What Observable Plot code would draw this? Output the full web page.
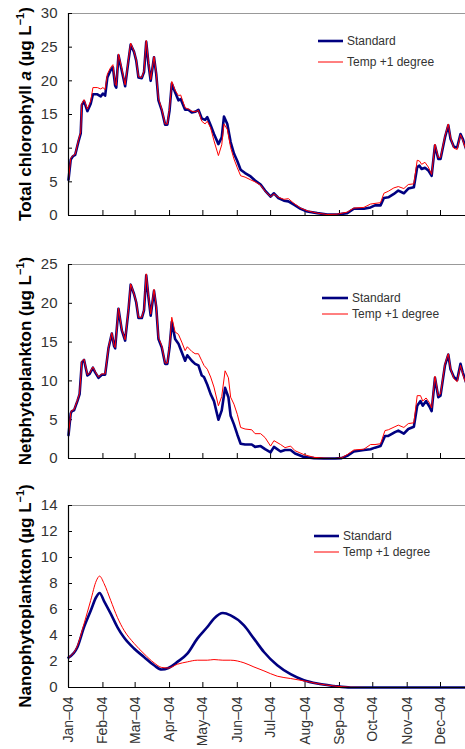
<!DOCTYPE html>
<html><head><meta charset="utf-8">
<script src="https://cdn.jsdelivr.net/npm/d3@7"></script>
<script src="https://cdn.jsdelivr.net/npm/@observablehq/plot@0.6"></script>
<style>
body{margin:0;background:#fff;}
#chart svg{display:block;}
</style></head><body><div id="chart"></div>
<script>
const months = ["2004-01-01","2004-02-01","2004-03-01","2004-04-01","2004-05-01","2004-06-01","2004-07-01","2004-08-01","2004-09-01","2004-10-01","2004-11-01","2004-12-01"];
const monthLabels = ["Jan–04","Feb–04","Mar–04","Apr–04","May–04","Jun–04","Jul–04","Aug–04","Sep–04","Oct–04","Nov–04","Dec–04"];
const seriesNames = ["Standard","Temp +1 degree"];
const seriesColors = ["#000080","#ff0000"];

// Total chlorophyll a (day of year, 0 = 1 Jan 2004)
const totalDays = [0,2,4,6,9,11,12,14,17,20,22,26,29,31,33,35,38,40,42,43,45,48,51,54,56,59,61,63,66,68,70,72,74,77,79,81,84,87,89,91,93,96,99,101,105,108,111,114,117,120,123,125,128,131,135,138,140,143,146,149,152,155,159,164,168,173,177,182,185,189,194,198,203,209,215,224,233,242,251,257,266,272,276,281,284,288,293,297,302,306,311,314,316,318,321,324,327,330,333,335,339,342,344,347,350,353,355,358];
const totalStandard = [5.3,8.3,8.8,9.0,11.0,12.2,16.4,17.0,15.5,16.6,18.0,18.0,17.7,18.1,17.8,20.5,21.6,22.0,19.3,19.0,23.8,21.5,19.2,23.0,25.4,24.3,23.0,20.5,20.4,21.3,25.8,22.5,20.0,23.5,21.0,17.1,15.6,13.5,13.5,15.6,19.6,18.3,17.1,17.3,15.7,15.7,15.3,15.4,15.7,14.4,14.2,14.6,13.4,12.1,10.6,11.6,14.7,13.6,10.9,9.2,8.1,6.8,6.3,5.8,5.2,4.6,3.7,2.8,3.3,2.6,2.2,2.1,1.6,1.0,0.6,0.35,0.15,0.15,0.35,1.0,1.0,1.2,1.5,1.5,2.6,2.7,3.2,3.7,3.3,4.0,4.2,7.2,7.4,6.9,7.1,6.7,5.9,10.4,8.4,8.4,11.6,13.4,11.4,10.2,10.1,12.1,11.4,9.9];
const totalTemp = [5.3,8.5,8.9,9.1,11.2,12.4,16.6,17.2,15.8,17.0,19.0,19.0,18.8,19.0,18.7,21.0,22.0,22.4,19.6,19.3,24.0,21.8,19.4,23.2,25.6,24.4,23.1,20.6,20.5,21.5,26.0,22.8,20.2,23.6,21.2,17.4,15.8,13.6,13.6,15.9,19.9,18.6,17.8,17.9,16.0,15.8,15.5,15.4,15.6,14.0,13.6,14.0,13.0,11.1,8.9,10.5,13.6,12.8,10.1,8.4,7.1,5.9,5.7,5.3,5.0,4.5,3.6,2.8,3.2,2.7,2.4,2.5,1.8,1.1,0.7,0.35,0.15,0.2,0.5,1.1,1.2,1.7,1.8,1.9,3.3,3.6,4.1,4.3,4.0,4.6,4.7,8.2,8.1,7.6,7.9,7.2,6.1,10.6,8.6,8.6,11.8,13.6,11.6,10.0,9.8,12.0,11.2,9.7];

// Netphytoplankton
const netDays = [0,2,3,5,8,10,12,14,17,19,22,24,27,30,33,36,39,41,42,45,48,51,54,56,59,61,63,66,68,70,72,74,77,79,81,84,87,89,91,93,96,99,102,105,107,111,114,117,120,122,125,128,131,135,138,141,144,146,149,152,155,159,165,168,173,177,182,185,191,195,200,204,212,221,230,240,246,251,257,266,272,276,281,285,288,294,297,302,306,311,314,317,319,322,325,327,330,333,335,339,342,344,347,350,353,355,358];
const netStandard = [3.0,5.8,6.1,6.2,7.4,8.3,12.4,12.7,10.7,10.9,11.7,11.1,10.4,10.8,10.8,14.2,16.1,14.5,14.2,19.3,16.5,15.2,19.1,22.4,21.2,20.1,18.1,18.1,19.1,23.6,20.8,18.4,21.6,19.5,15.4,14.3,12.2,12.2,14.3,17.6,15.4,14.8,13.7,12.6,13.3,12.6,12.2,12.0,10.7,10.5,9.5,8.3,7.4,5.0,6.2,9.1,7.9,5.5,4.4,3.1,1.9,1.8,1.8,1.5,1.6,1.2,0.8,1.5,0.9,1.1,1.1,0.65,0.2,0.05,0.0,0.0,0.05,0.35,0.9,1.1,1.2,1.4,1.6,2.9,2.9,3.4,3.6,3.2,3.8,4.1,6.8,7.4,6.8,7.4,6.7,6.1,10.4,7.9,8.1,12.0,13.4,11.5,10.5,10.1,12.2,11.1,9.8];
const netTemp = [3.0,5.9,6.2,6.3,7.5,8.4,12.5,12.8,10.8,11.0,11.8,11.2,10.5,10.9,10.9,14.3,16.2,14.6,14.3,19.4,16.6,15.3,19.2,22.5,21.2,20.2,18.2,18.2,19.2,23.8,21.0,18.6,21.8,19.7,15.6,14.5,12.3,12.3,14.5,18.2,16.3,16.0,15.0,13.9,14.4,13.8,13.5,13.5,12.6,12.0,11.5,10.5,9.2,6.8,8.0,11.3,10.4,7.9,7.0,5.7,4.0,3.8,3.7,3.2,3.2,2.7,1.6,2.3,1.8,1.4,1.6,1.0,0.5,0.15,0.05,0.0,0.1,0.5,1.1,1.2,1.8,1.8,1.9,3.6,3.7,4.1,4.3,4.0,4.5,4.6,8.1,8.1,7.4,7.8,7.2,6.5,10.6,8.1,8.3,12.2,13.5,11.6,10.3,9.9,12.0,10.9,9.6];

// Nanophytoplankton
const nanoDays = [0,8,14,20,25,28,32,38,44,50,59,68,77,84,90,98,107,116,125,131,139,146,158,167,176,188,200,212,224,239,254,270,300,330,358];
const nanoStandard = [2.3,3.1,4.65,5.9,6.96,7.27,6.65,5.68,4.65,3.84,3.0,2.35,1.71,1.38,1.5,1.97,2.6,3.76,4.65,5.3,5.73,5.55,4.78,3.76,2.73,1.71,1.02,0.56,0.3,0.12,0.0,0.0,0.0,0.0,0.0];
const nanoTemp = [2.3,3.2,4.9,6.7,8.2,8.57,8.0,6.7,5.4,4.4,3.4,2.6,1.9,1.54,1.5,1.79,1.97,2.1,2.1,2.15,2.1,2.1,1.9,1.58,1.28,0.87,0.69,0.51,0.3,0.12,0.02,0.0,0.0,0.0,0.0];

const yTicksTotal = [0,5,10,15,20,25,30];
const yTicksNet = [0,5,10,15,20,25];
const yTicksNano = [0,2,4,6,8,10,12,14];

const start = new Date(2004,0,1);
const xEnd = new Date(2004,11,23,12);
const monthDates = months.map(s => { const [y,m,d] = s.split("-").map(Number); return new Date(y,m-1,d); });

function rows(days, vals, name) {
  return days.map((d,i) => ({date: d3.timeDay.offset(start, d), value: vals[i], series: name}));
}

function panel({days, std, temp, yTicks, label, height, marginTop, marginBottom, showLabels, curve, legend}) {
  const yMax = yTicks[yTicks.length-1];
  const data = [...rows(days, std, seriesNames[0]), ...rows(days, temp, seriesNames[1])];
  const plot = Plot.plot({
    width: 465, height, marginLeft: 68, marginRight: 0, marginTop, marginBottom,
    style: {fontFamily: "'Liberation Sans', Arial, sans-serif", fontSize: "15px", color: "#333", background: "#fff", overflow: "visible"},
    x: {type: "time", domain: [start, xEnd]},
    y: {domain: [0, yMax]},
    color: {domain: seriesNames, range: seriesColors},
    marks: [
      Plot.ruleY([yMax], {stroke: "#999", strokeWidth: 1}),
      Plot.axisY({ticks: yTicks, tickSize: -4, tickPadding: 15, tickFormat: d => String(d), stroke: "#000", label: null, fill: "#333"}),
      Plot.axisX({ticks: monthDates, tickSize: -5, tickPadding: 14, tickRotate: showLabels ? -90 : 0,
        tickFormat: showLabels ? (d => monthLabels[monthDates.findIndex(m => +m === +d)]) : (() => ""),
        label: null, stroke: "#000", fill: "#333", fontSize: 14}),
      Plot.line(data.filter(d => d.series === seriesNames[0]), {x: "date", y: "value", stroke: seriesColors[0], strokeWidth: 2.6, curve}),
      Plot.line(data.filter(d => d.series === seriesNames[1]), {x: "date", y: "value", stroke: seriesColors[1], strokeWidth: 1, curve}),
      Plot.ruleY([0], {stroke: "#000", strokeWidth: 1.2}),
      Plot.ruleX([start], {stroke: "#000", strokeWidth: 1.2})
    ]
  });
  const svg = d3.select(plot);
  const cy = marginTop + (height - marginTop - marginBottom) / 2;
  const t = svg.append("text")
    .attr("transform", `translate(31,${cy}) rotate(-90)`)
    .attr("text-anchor", "middle")
    .attr("font-family", "'Liberation Sans', Arial, sans-serif")
    .attr("font-size", 17).attr("font-weight", "bold").attr("fill", "#000");
  label.forEach(p => {
    const ts = t.append("tspan").text(p.t);
    if (p.i) ts.attr("font-style", "italic");
    if (p.sup) ts.attr("font-size", 11).attr("dy", -7);
    if (p.after) ts.attr("dy", 7);
  });
  const lg = svg.append("g").attr("font-family", "'Liberation Sans', Arial, sans-serif").attr("font-size", 12).attr("fill", "#333").attr("text-anchor", "start");
  seriesNames.forEach((n, i) => {
    const y = legend.y + i * legend.gap;
    lg.append("line").attr("x1", legend.x).attr("x2", legend.x + legend.w).attr("y1", y).attr("y2", y)
      .attr("stroke", seriesColors[i]).attr("stroke-width", i === 0 ? 2.6 : 1);
    lg.append("text").attr("x", legend.x + legend.w + 4).attr("y", y).attr("dy", "0.35em").attr("text-anchor", "start").text(n);
  });
  return plot;
}

const unit = (name) => [{t: name + " (µg L"}, {t: "−1", sup: true}, {t: ")", after: true}];
const chart = document.getElementById("chart");
chart.appendChild(panel({days: totalDays, std: totalStandard, temp: totalTemp, yTicks: yTicksTotal,
  label: [{t: "Total chlorophyll "}, {t: "a", i: true}, {t: " (µg L"}, {t: "−1", sup: true}, {t: ")", after: true}],
  height: 240, marginTop: 13, marginBottom: 25, showLabels: false, curve: "linear", legend: {x: 318, y: 41, w: 25, gap: 21}}));
chart.appendChild(panel({days: netDays, std: netStandard, temp: netTemp, yTicks: yTicksNet,
  label: unit("Netphytoplankton"),
  height: 240, marginTop: 24, marginBottom: 22, showLabels: false, curve: "linear", legend: {x: 322, y: 58, w: 26, gap: 16}}));
chart.appendChild(panel({days: nanoDays, std: nanoStandard, temp: nanoTemp, yTicks: yTicksNano,
  label: unit("Nanophytoplankton"),
  height: 269, marginTop: 25, marginBottom: 62, showLabels: true, curve: "monotone-x", legend: {x: 314, y: 56, w: 25, gap: 16}}));
</script></body></html>
